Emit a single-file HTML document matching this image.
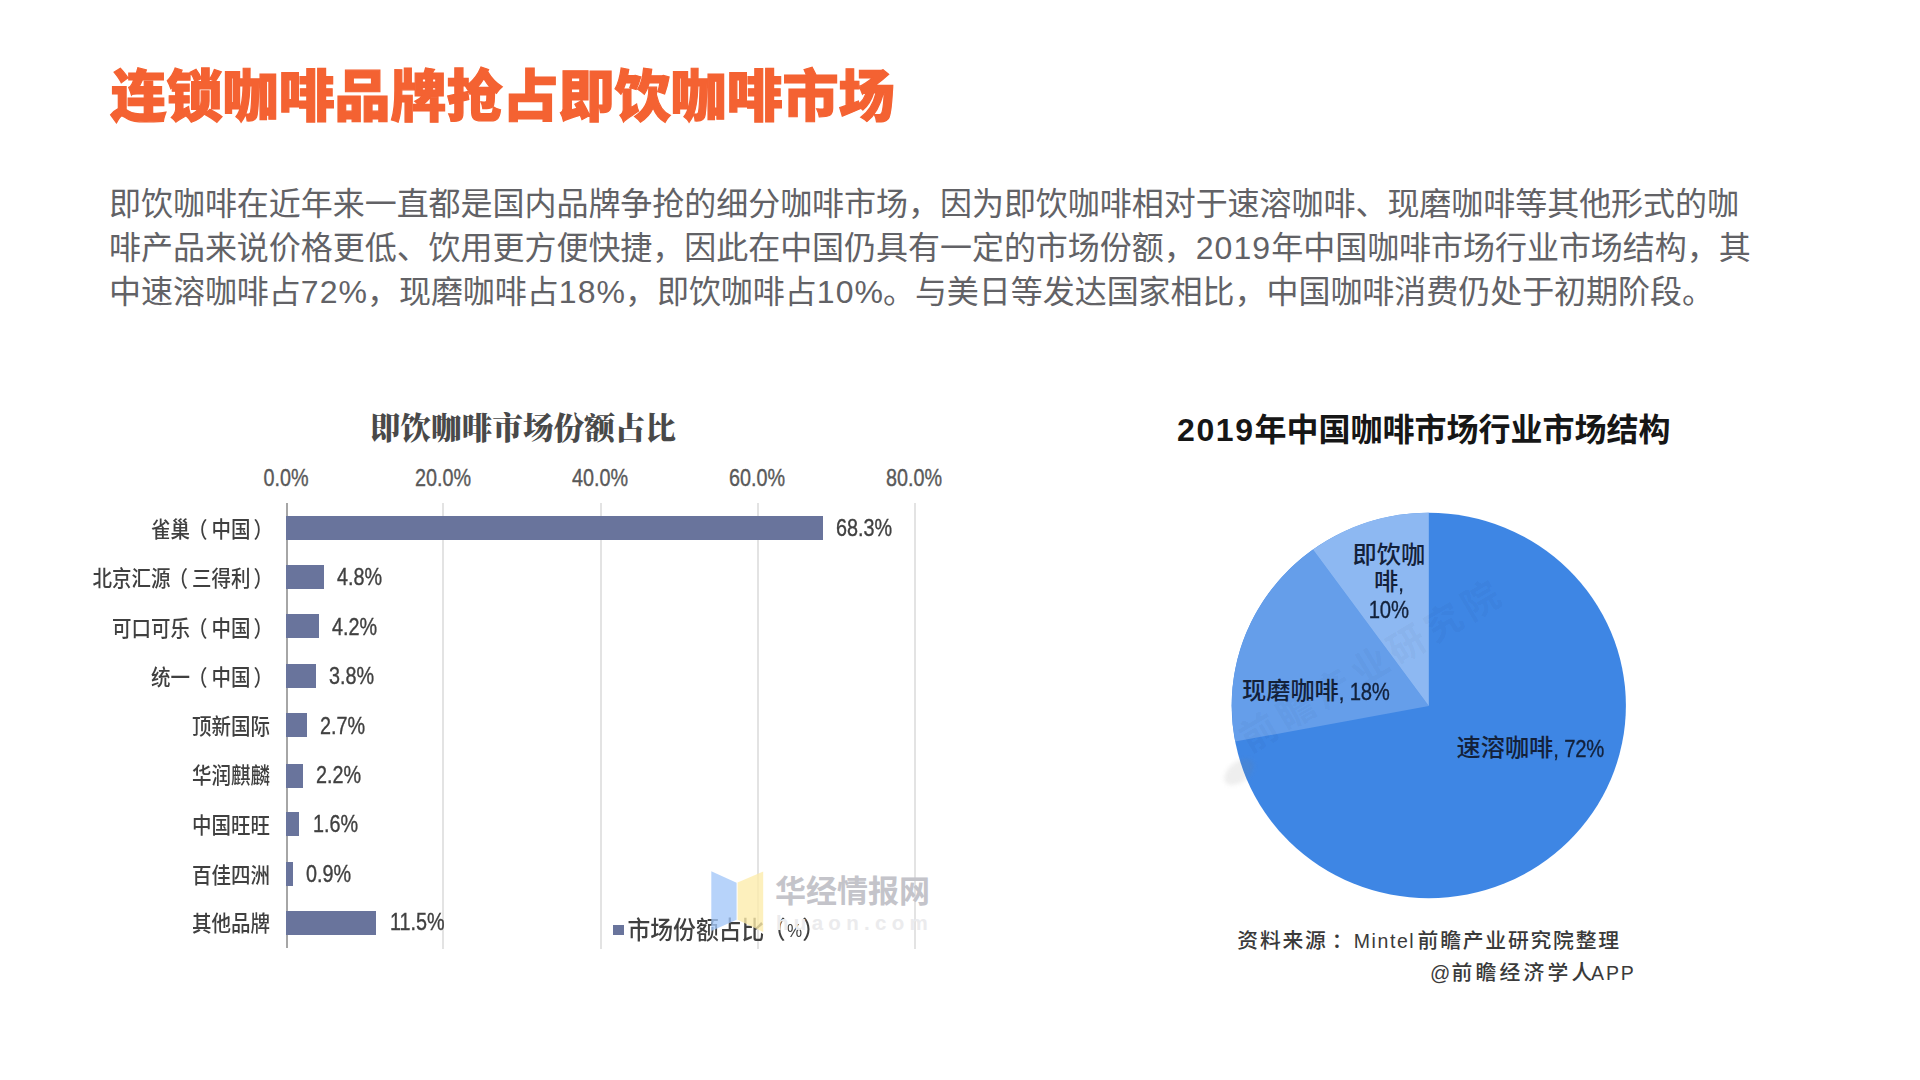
<!DOCTYPE html>
<html lang="zh-CN">
<head>
<meta charset="utf-8">
<title>连锁咖啡品牌抢占即饮咖啡市场</title>
<style>
*{margin:0;padding:0;box-sizing:border-box}
html,body{width:1920px;height:1080px;background:#fff;overflow:hidden}
body{position:relative;font-family:"Liberation Sans","Noto Sans CJK SC",sans-serif}
.abs{position:absolute;white-space:nowrap}
#title{left:110.5px;top:55.5px;font-size:56px;line-height:82px;font-weight:900;color:#f46232;font-family:"Liberation Sans","Noto Sans CJK SC",sans-serif;letter-spacing:0px;-webkit-text-stroke:1.2px #f46232}
#para{left:109px;top:182px;width:1700px;font-size:32px;line-height:44px;color:#626266;white-space:normal;font-weight:400;letter-spacing:-0.04px}
#para div{white-space:nowrap}
#para i{font-style:normal;letter-spacing:1.1px}
.ctitle{font-family:"Liberation Serif","Noto Serif CJK SC",serif;font-weight:900;font-size:30.6px;color:#494949;left:370px;top:407.3px;line-height:44px}
.ax{font-size:19.8px;color:#595959;top:465.6px;line-height:22px;transform:translateX(-50%) scaleY(1.24);-webkit-text-stroke:0.3px #595959}
.grid{position:absolute;top:502.5px;height:446px;width:2px;background:#e3e3e3}
.bar{position:absolute;left:286px;height:24px;margin-top:0.4px;background:#69749c}
.cat{font-size:19.5px;color:#404040;line-height:24px;text-align:right;right:1650px;transform:scaleY(1.12);font-weight:500;margin-top:1.2px}
.cat b{font-weight:inherit;margin-left:-2px;margin-right:4px}
.cat u{text-decoration:none;margin-left:3px}
.val{font-size:19.8px;color:#404040;line-height:22px;margin-top:-0.6px;transform:scaleY(1.22);transform-origin:left center;-webkit-text-stroke:0.3px #404040}
.ptitle{font-weight:700;font-size:32px;color:#161616;left:1177px;top:406.5px;line-height:46px}
.ptitle i{font-style:normal;letter-spacing:1.6px}
.plab{font-size:24.2px;color:#13213a;line-height:28px;font-weight:500}
.plab i{font-style:normal;font-size:20.3px;letter-spacing:-0.2px;display:inline-block;line-height:1;transform:scaleY(1.2);transform-origin:center 49%;font-weight:400;-webkit-text-stroke:0.3px #13213a}
.src{font-size:20.8px;font-weight:500;color:#3a3a3a;line-height:26px;letter-spacing:1.8px}
.src i{font-style:normal;font-weight:400;font-size:19.5px;letter-spacing:0.8px}
</style>
</head>
<body>
<div id="title" class="abs">连锁咖啡品牌抢占即饮咖啡市场</div>
<div id="para" class="abs">
<div>即饮咖啡在近年来一直都是国内品牌争抢的细分咖啡市场，因为即饮咖啡相对于速溶咖啡、现磨咖啡等其他形式的咖</div>
<div>啡产品来说价格更低、饮用更方便快捷，因此在中国仍具有一定的市场份额，<i>2019</i>年中国咖啡市场行业市场结构，其</div>
<div>中速溶咖啡占<i>72</i>%，现磨咖啡占<i>18</i>%，即饮咖啡占<i>10</i>%。与美日等发达国家相比，中国咖啡消费仍处于初期阶段。</div>
</div>

<!-- bar chart -->
<div class="abs ctitle">即饮咖啡市场份额占比</div>
<div class="abs ax" style="left:286px">0.0%</div>
<div class="abs ax" style="left:443px">20.0%</div>
<div class="abs ax" style="left:600px">40.0%</div>
<div class="abs ax" style="left:757px">60.0%</div>
<div class="abs ax" style="left:914px">80.0%</div>
<div class="grid" style="left:285.6px;width:2px;background:#a6a6a6;top:503px;height:445px"></div>
<div class="grid" style="left:442.3px"></div>
<div class="grid" style="left:599.8px"></div>
<div class="grid" style="left:757.3px"></div>
<div class="grid" style="left:913.9px"></div>

<div class="bar" style="top:516px;width:537px"></div>
<div class="bar" style="top:565px;width:38px"></div>
<div class="bar" style="top:614px;width:33px"></div>
<div class="bar" style="top:664px;width:30px"></div>
<div class="bar" style="top:713px;width:21px"></div>
<div class="bar" style="top:763.2px;width:17px"></div>
<div class="bar" style="top:812px;width:13px"></div>
<div class="bar" style="top:861.6px;width:7px"></div>
<div class="bar" style="top:910.6px;width:90px"></div>

<div class="abs cat" style="top:516px;right:1647px">雀巢<b>（</b>中国<u>）</u></div>
<div class="abs cat" style="top:565px;right:1647px">北京汇源<b>（</b>三得利<u>）</u></div>
<div class="abs cat" style="top:615px;right:1647px">可口可乐<b>（</b>中国<u>）</u></div>
<div class="abs cat" style="top:664px;right:1647px">统一<b>（</b>中国<u>）</u></div>
<div class="abs cat" style="top:713px">顶新国际</div>
<div class="abs cat" style="top:762.3px">华润麒麟</div>
<div class="abs cat" style="top:812px">中国旺旺</div>
<div class="abs cat" style="top:862px">百佳四洲</div>
<div class="abs cat" style="top:910px">其他品牌</div>

<div class="abs val" style="left:836px;top:517px">68.3%</div>
<div class="abs val" style="left:337px;top:566px">4.8%</div>
<div class="abs val" style="left:332px;top:616px">4.2%</div>
<div class="abs val" style="left:329px;top:665px">3.8%</div>
<div class="abs val" style="left:320px;top:715px">2.7%</div>
<div class="abs val" style="left:316px;top:764px">2.2%</div>
<div class="abs val" style="left:313px;top:813px">1.6%</div>
<div class="abs val" style="left:306px;top:863px">0.9%</div>
<div class="abs val" style="left:390px;top:911px">11.5%</div>

<!-- legend + watermark -->
<div class="abs" style="left:613px;top:925px;width:11px;height:10px;background:#69749c"></div>
<div class="abs" id="legend" style="left:627.5px;top:916px;font-size:22.8px;line-height:28px;color:#404040;font-weight:500;transform:scaleY(1.08);transform-origin:left center">市场份额占比<span style="margin-left:-1.5px">（</span><span style="font-size:17px;margin:0 0 0 1.5px;position:relative;top:-1px">%</span>）</div>
<svg class="abs" style="left:700px;top:860px" width="240" height="80" viewBox="700 860 240 80">
<polygon points="711.3,871.2 736.6,882.8 736.6,919.8 711.3,931" fill="#a3c6f8" fill-opacity="0.78"/>
<polygon points="737.6,882.4 763.2,871.6 763.2,932 737.6,919.8" fill="#fcecaa" fill-opacity="0.78"/>
<text x="775" y="901.5" font-size="31" font-weight="700" fill="#c4c4ca" font-family="Liberation Sans, Noto Sans CJK SC, sans-serif">华经情报网</text>
<text x="776" y="929.5" font-size="20.5" font-weight="700" fill="#ebebed" letter-spacing="5.3" font-family="Liberation Sans, sans-serif">huaon.com</text>
</svg>

<!-- pie chart -->
<div class="abs ptitle"><i>2019</i>年中国咖啡市场行业市场结构</div>
<svg class="abs" style="left:1220px;top:500px" width="420" height="410" viewBox="1220 500 420 410">
<ellipse cx="1428.8" cy="705.5" rx="197.1" ry="192.7" fill="#3e86e4"/>
<path d="M1428.8 706.0 L1235.19 741.61 A197.1 192.7 0 0 1 1312.95 549.60 Z" fill="#659eea"/>
<path d="M1428.8 706.0 L1312.95 549.60 A197.1 192.7 0 0 1 1428.80 512.80 Z" fill="#8db8f2"/>
</svg>
<div class="abs" id="pwm" style="left:1373px;top:666px;width:0;height:0"><div style="position:absolute;left:-170px;top:-28px;width:340px;height:56px;line-height:56px;text-align:center;font-size:37px;font-weight:700;letter-spacing:6px;color:rgba(15,35,80,0.05);transform:rotate(-30.7deg)">前瞻产业研究院</div></div>
<div class="abs" style="left:1222px;top:762px;width:34px;height:20px;border-radius:50%;background:rgba(120,120,120,0.13);transform:rotate(-38deg);filter:blur(2px)"></div>
<div class="abs plab" style="left:1388.8px;top:541px;transform:translateX(-50%);text-align:center;line-height:27px">即饮咖<br>啡<i>,</i><br><i>10%</i></div>
<div class="abs plab" style="left:1242px;top:677px">现磨咖啡<i>, 18%</i></div>
<div class="abs plab" style="left:1456.5px;top:733.5px">速溶咖啡<i>, 72%</i></div>
<div class="abs src" style="left:1237.3px;top:928.2px">资料来源<span style="margin-left:4px;margin-right:-4px">：</span><i style="margin-left:3.4px;letter-spacing:1.6px;margin-right:-4.8px">Mintel </i>前瞻产业研究院整理</div>
<div class="abs src" style="left:1430px;top:960.4px;letter-spacing:3.2px"><i style="font-size:20px;margin-right:0.5px">@</i>前瞻经济学人<i style="margin-left:-4.5px;letter-spacing:1.8px">APP</i></div>
</body>
</html>
